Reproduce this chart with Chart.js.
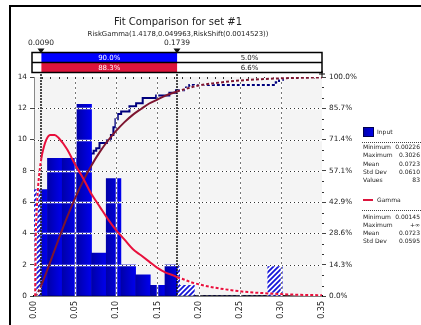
<!DOCTYPE html>
<html>
<head>
<meta charset="utf-8">
<title>Fit Comparison for set #1</title>
<script src="https://cdn.jsdelivr.net/npm/chart.js@4.4.1/dist/chart.umd.min.js"></script>
<style>
  html, body { margin: 0; padding: 0; background: #fff; }
  canvas { display: block; }
</style>
</head>
<body>
<canvas id="chart" width="421" height="325"></canvas>
<script>
// Histogram of the input data (density scale)
const binEdges = [-0.0015, 0.0164, 0.0342, 0.0521, 0.0699, 0.0878, 0.1056, 0.1235, 0.1413,
                  0.1592, 0.1770, 0.1949, 0.2127, 0.2306, 0.2484, 0.2663, 0.2841, 0.3020];
const binDensity = [6.8, 8.8, 8.8, 12.25, 2.75, 7.5, 2.0, 1.35, 0.68, 2.0, 0.68, 0, 0, 0, 0, 0, 1.95];

// Fitted gamma density
const pdfX = [0.00145, 0.002, 0.003, 0.005, 0.0075, 0.009, 0.01, 0.015, 0.02, 0.025, 0.03, 0.04, 0.05,
              0.06, 0.07, 0.08, 0.09, 0.10, 0.11, 0.12, 0.13, 0.14, 0.15, 0.16, 0.17, 0.1739, 0.18,
              0.19, 0.20, 0.22, 0.24, 0.26, 0.28, 0.30, 0.32, 0.35];
const pdfY = [0, 3.4, 5.1, 7.0, 8.3, 8.8, 9.1, 10.0, 10.3, 10.3, 10.1, 9.4, 8.4,
              7.5, 6.5, 5.7, 4.9, 4.2, 3.6, 3.0, 2.6, 2.2, 1.8, 1.5, 1.3, 1.2, 1.1,
              0.9, 0.75, 0.53, 0.37, 0.25, 0.18, 0.12, 0.08, 0.05];

// Fitted gamma cumulative probability
const cdfX = [0.00145, 0.003, 0.005, 0.009, 0.01, 0.02, 0.03, 0.04, 0.05, 0.06, 0.07, 0.08, 0.09, 0.10,
              0.11, 0.12, 0.13, 0.14, 0.15, 0.16, 0.1739, 0.18, 0.20, 0.22, 0.25, 0.28, 0.30, 0.32, 0.35];
const cdfY = [0, 0.006, 0.018, 0.050, 0.059, 0.158, 0.260, 0.358, 0.447, 0.527, 0.597, 0.658, 0.710, 0.755,
              0.794, 0.827, 0.854, 0.879, 0.897, 0.915, 0.934, 0.941, 0.961, 0.972, 0.984, 0.991, 0.994, 0.996, 0.998];

// Cumulative share of the input values
const ecdfX = [0.0023, 0.004, 0.006, 0.009, 0.012, 0.015, 0.019, 0.023, 0.027, 0.031, 0.034, 0.038, 0.042,
               0.046, 0.050, 0.054, 0.057, 0.060, 0.063, 0.066, 0.069, 0.0725, 0.0756, 0.0796, 0.0885,
               0.0935, 0.0965, 0.099, 0.1018, 0.1059, 0.116, 0.1241, 0.1321, 0.1484, 0.1645, 0.1726,
               0.1739, 0.1847, 0.1887, 0.2938, 0.2978, 0.3026];
const ecdfY = [0.012, 0.036, 0.060, 0.084, 0.096, 0.120, 0.157, 0.193, 0.217, 0.253, 0.277, 0.313, 0.349,
               0.386, 0.410, 0.446, 0.494, 0.542, 0.578, 0.614, 0.651, 0.663, 0.675, 0.699, 0.711,
               0.735, 0.771, 0.807, 0.831, 0.843, 0.867, 0.880, 0.904, 0.916, 0.928, 0.940,
               0.940, 0.952, 0.964, 0.976, 0.988, 1.0];

// Delimiters and the probabilities left of, between and right of them
const delimiters = [0.0090, 0.1739];
const inputPct = [5.0, 90.0, 5.0];
const fitPct = [5.1, 88.3, 6.6];

// Summary statistics
const inputStats = [['Minimum', '0.00226'], ['Maximum', '0.3026'], ['Mean', '0.0723'], ['Std Dev', '0.0610'], ['Values', '83']];
const fitStats = [['Minimum', '0.00145'], ['Maximum', '+\u221e'], ['Mean', '0.0723'], ['Std Dev', '0.0595']];

const titleText = 'Fit Comparison for set #1';
const subtitleText = 'RiskGamma(1.4178,0.049963,RiskShift(0.0014523))';

const FONT = '"DejaVu Sans", Verdana, sans-serif';
const TEXT = '#222';
const BLUE = '#0000ff';
const RED = '#dc143c';

const toPoints = (xs, ys) => xs.map((x, i) => ({ x, y: ys[i] }));
const bars = binDensity.map((h, i) => ({ x: (binEdges[i] + binEdges[i + 1]) / 2, y: h }));

const canvas = document.getElementById('chart');
const ctx0 = canvas.getContext('2d');

function makeHatch() {
  const c = document.createElement('canvas');
  c.width = 5; c.height = 5;
  const g = c.getContext('2d');
  g.fillStyle = '#ffffff';
  g.fillRect(0, 0, 5, 5);
  g.strokeStyle = '#1515d8';
  g.lineWidth = 1.8;
  g.beginPath();
  g.moveTo(-1, 6); g.lineTo(6, -1);
  g.moveTo(-1, 1); g.lineTo(1, -1);
  g.moveTo(4, 6); g.lineTo(6, 4);
  g.stroke();
  return ctx0.createPattern(c, 'repeat');
}
const hatch = makeHatch();

// per-bar placeholder; the shaded fill is set just before drawing
const barFill = () => '#0000e0';

function shadeBars(chart, meta) {
  const ctx = chart.ctx;
  meta.data.forEach(el => {
    const l = el.x - el.width / 2, r = el.x + el.width / 2;
    if (!isFinite(l) || !isFinite(r) || r <= l) return;
    const g = ctx.createLinearGradient(l, 0, r, 0);
    g.addColorStop(0, '#0000a8');
    g.addColorStop(1, '#0000ee');
    el.options.backgroundColor = g;
  });
}

// segments outside the delimiters are drawn dashed over a white under-stroke
const isTail = c => c.p0.parsed.x >= delimiters[1] - 1e-9 || c.p1.parsed.x <= delimiters[0] + 1e-9;
const tailDash = c => isTail(c) ? [3, 2] : undefined;
const tailUnder = c => isTail(c) ? '#ffffff' : 'rgba(0,0,0,0)';

function line(ctx, x1, y1, x2, y2) {
  ctx.beginPath(); ctx.moveTo(x1, y1); ctx.lineTo(x2, y2); ctx.stroke();
}

function drawGrid(chart) {
  const { ctx, chartArea: a, scales: { x, y } } = chart;
  ctx.save();
  y.ticks.forEach(t => {
    if (t.value <= 0 || t.value >= 14) return;
    const py = Math.round(y.getPixelForValue(t.value)) + 0.5;
    ctx.setLineDash([]); ctx.strokeStyle = '#ffffff'; ctx.lineWidth = 1.5;
    line(ctx, a.left, py, a.right, py);
    ctx.setLineDash([1, 3]); ctx.strokeStyle = '#333'; ctx.lineWidth = 1;
    line(ctx, a.left, py, a.right, py);
  });
  x.ticks.forEach(t => {
    if (t.value <= 0 || t.value >= 0.35) return;
    const px = Math.round(x.getPixelForValue(t.value)) + 0.5;
    ctx.setLineDash([]); ctx.strokeStyle = '#ffffff'; ctx.lineWidth = 1.5;
    line(ctx, px, a.top, px, a.bottom);
    ctx.setLineDash([2, 3]); ctx.strokeStyle = '#777'; ctx.lineWidth = 1;
    line(ctx, px, a.top, px, a.bottom);
  });
  // delimiter markers across the plot
  ctx.setLineDash([2, 1]); ctx.strokeStyle = '#111'; ctx.lineWidth = 1.5;
  delimiters.forEach(d => {
    const px = Math.round(x.getPixelForValue(d));
    line(ctx, px, a.top - 24, px, a.bottom);
  });
  ctx.restore();
}

function drawMinorTicks(chart) {
  const { ctx, chartArea: a, scales: { x, y2 } } = chart;
  ctx.save();
  ctx.strokeStyle = '#333';
  ctx.lineWidth = 1;
  // along the top edge, every 0.01
  for (let k = 1; k < 35; k++) {
    const px = Math.round(x.getPixelForValue(k / 100)) + 0.5;
    line(ctx, px, a.top, px, a.top + 2);
  }
  // right edge, two subdivisions between labelled ticks
  for (let k = 1; k < 21; k++) {
    if (k % 3 === 0) continue;
    const py = Math.round(y2.getPixelForValue(k / 21)) + 0.5;
    line(ctx, a.right, py, a.right + 2, py);
  }
  ctx.restore();
}

function drawDelimiterBars(chart) {
  const { ctx, chartArea: a, scales: { x } } = chart;
  const L = a.left - 2, R = a.right, T = a.top - 24.5, H = 10;
  const xs = [L, x.getPixelForValue(delimiters[0]), x.getPixelForValue(delimiters[1]), R];
  const rows = [{ pct: inputPct, fill: BLUE }, { pct: fitPct, fill: RED }];
  ctx.save();
  ctx.font = '7px ' + FONT;
  ctx.textAlign = 'center';
  ctx.textBaseline = 'middle';
  rows.forEach((row, r) => {
    const y0 = T + r * H;
    ctx.fillStyle = '#fff';
    ctx.fillRect(L, y0, R - L, H);
    ctx.fillStyle = row.fill;
    ctx.fillRect(xs[1], y0, xs[2] - xs[1], H);
    row.pct.forEach((v, k) => {
      const w = xs[k + 1] - xs[k];
      if (w < 24) return;
      ctx.fillStyle = k === 1 ? '#fff' : TEXT;
      ctx.fillText(v.toFixed(1) + '%', (xs[k] + xs[k + 1]) / 2, y0 + H / 2 + 0.5);
    });
  });
  ctx.strokeStyle = '#000';
  ctx.lineWidth = 1.5;
  ctx.strokeRect(L, T, R - L, 2 * H);
  line(ctx, L, T + H, R, T + H);
  // delimiter values and arrow heads
  ctx.font = '7.5px ' + FONT;
  delimiters.forEach(d => {
    const px = Math.round(x.getPixelForValue(d));
    ctx.fillStyle = TEXT;
    ctx.fillText(d.toFixed(4), px, T - 9);
    ctx.fillStyle = '#111';
    ctx.beginPath();
    ctx.moveTo(px - 3.5, T - 4); ctx.lineTo(px + 3.5, T - 4); ctx.lineTo(px, T + 1);
    ctx.closePath(); ctx.fill();
  });
  // small cross at the right end
  ctx.lineWidth = 1;
  line(ctx, R - 3, a.top - 3, R + 3, a.top - 3);
  line(ctx, R, a.top - 6, R, a.top);
  ctx.restore();
}

function drawLegend(chart) {
  const { ctx } = chart;
  const LX = 363, VX = 420;
  ctx.save();
  const g = ctx.createLinearGradient(LX, 0, LX + 11, 0);
  g.addColorStop(0, '#0000a8'); g.addColorStop(1, '#0000ee');
  ctx.fillStyle = g;
  ctx.fillRect(LX, 127, 11, 10);
  ctx.strokeStyle = '#000050'; ctx.lineWidth = 1;
  ctx.strokeRect(LX + 0.5, 127.5, 10, 9);
  ctx.fillStyle = TEXT;
  ctx.font = '6px ' + FONT;
  ctx.textBaseline = 'middle';
  ctx.fillText('Input', 377, 132);
  ctx.strokeStyle = '#444'; ctx.setLineDash([1, 1]);
  line(ctx, 362, 142.5, 421, 142.5);
  ctx.setLineDash([]);
  inputStats.forEach(([k, v], i) => {
    const yy = 147.5 + i * 8.3;
    ctx.textAlign = 'left'; ctx.fillText(k, LX, yy);
    ctx.textAlign = 'right'; ctx.fillText(v, VX, yy);
  });
  ctx.strokeStyle = RED; ctx.lineWidth = 2;
  line(ctx, LX, 200, LX + 10, 200);
  ctx.textAlign = 'left';
  ctx.fillText('Gamma', 377, 200.5);
  ctx.strokeStyle = '#444'; ctx.lineWidth = 1; ctx.setLineDash([1, 1]);
  line(ctx, 362, 210.5, 421, 210.5);
  ctx.setLineDash([]);
  fitStats.forEach(([k, v], i) => {
    const yy = 217 + i * 8;
    ctx.textAlign = 'left'; ctx.fillText(k, LX, yy);
    ctx.textAlign = 'right'; ctx.fillText(v, VX, yy);
  });
  ctx.restore();
}

const decor = {
  id: 'decor',
  beforeDraw(chart) {
    const { ctx, chartArea: a } = chart;
    ctx.save();
    ctx.fillStyle = '#fff';
    ctx.fillRect(0, 0, chart.width, chart.height);
    ctx.fillStyle = '#f4f4f4';
    ctx.fillRect(a.left, a.top, a.right - a.left, a.bottom - a.top);
    ctx.restore();
  },
  beforeDatasetDraw(chart, args) {
    const ds = chart.data.datasets[args.index];
    if (!ds.clipZone) return;
    const { ctx, scales: { x } } = chart;
    if (ds.clipZone === 'inside') shadeBars(chart, args.meta);
    const l = x.getPixelForValue(delimiters[0]);
    const r = x.getPixelForValue(delimiters[1]);
    ctx.save();
    ctx.beginPath();
    if (ds.clipZone === 'inside') {
      ctx.rect(l, 0, r - l, chart.height);
    } else {
      ctx.rect(0, 0, l, chart.height);
      ctx.rect(r, 0, chart.width - r, chart.height);
    }
    ctx.clip();
  },
  afterDatasetDraw(chart, args) {
    const ds = chart.data.datasets[args.index];
    if (!ds.clipZone) return;
    chart.ctx.restore();
    if (ds.clipZone === 'inside') { drawGrid(chart); drawMinorTicks(chart); }
  },
  afterDraw(chart) {
    const { ctx, chartArea: a } = chart;
    ctx.save();
    ctx.fillStyle = '#000';
    ctx.fillRect(9, 5, chart.width - 9, 2);
    ctx.fillRect(9, 5, 2, chart.height - 5);
    const cx = (a.left + a.right) / 2;
    ctx.fillStyle = TEXT;
    ctx.textAlign = 'center';
    ctx.textBaseline = 'middle';
    ctx.font = '10px ' + FONT;
    ctx.fillText(titleText, cx, 22);
    ctx.font = '6.9px ' + FONT;
    ctx.fillText(subtitleText, cx, 34.5);
    ctx.restore();
    drawDelimiterBars(chart);
    drawLegend(chart);
  }
};

const tickFont = { family: FONT, size: 7.3 };

function curve(label, xs, ys, axis, color, order, extra) {
  return [
    Object.assign({ type: 'line', label: label + ' base', data: toPoints(xs, ys), yAxisID: axis,
      borderColor: 'rgba(0,0,0,0)', borderWidth: 2, pointRadius: 0,
      segment: { borderColor: tailUnder }, order: order + 0.5 }, extra),
    Object.assign({ type: 'line', label, data: toPoints(xs, ys), yAxisID: axis,
      borderColor: color, borderWidth: 2, pointRadius: 0,
      segment: { borderDash: tailDash }, order }, extra)
  ];
}

new Chart(canvas, {
  type: 'bar',
  data: {
    datasets: [
      { type: 'bar', label: 'Input', data: bars, clipZone: 'outside', backgroundColor: hatch,
        grouped: false, barPercentage: 1, categoryPercentage: 1, borderWidth: 0, order: 11, yAxisID: 'y' },
      { type: 'bar', label: 'Input', data: bars, clipZone: 'inside', backgroundColor: barFill,
        grouped: false, barPercentage: 1, categoryPercentage: 1, borderWidth: 0, order: 10, yAxisID: 'y' },
      ...curve('Input CDF', ecdfX, ecdfY, 'y2', '#00007d', 12, { stepped: true }),
      ...curve('Gamma CDF', cdfX, cdfY, 'y2', '#7d1530', 3, { cubicInterpolationMode: 'monotone' }),
      ...curve('Gamma', pdfX, pdfY, 'y', '#e8103c', 1, { cubicInterpolationMode: 'monotone' })
    ]
  },
  options: {
    responsive: false,
    animation: false,
    devicePixelRatio: 1,
    layout: { padding: { left: 0, top: 77, right: 54, bottom: 0 } },
    plugins: { legend: { display: false }, tooltip: { enabled: false }, title: { display: false } },
    scales: {
      x: {
        type: 'linear', min: 0, max: 0.35, offset: false,
        ticks: { stepSize: 0.05, minRotation: 90, maxRotation: 90, autoSkip: false,
                 callback: v => Number(v).toFixed(2), font: { family: FONT, size: 8 }, color: TEXT, padding: 5 },
        grid: { display: false, drawTicks: false, offset: false },
        border: { display: true, color: '#000', width: 1.5 },
        afterFit: s => { s.height = 29; }
      },
      y: {
        min: 0, max: 14,
        ticks: { stepSize: 2, font: tickFont, color: TEXT, padding: 3 },
        grid: { drawOnChartArea: false, tickLength: 4, color: '#444' },
        border: { display: true, color: '#888', width: 1 },
        afterFit: s => { s.width = 34; }
      },
      y2: {
        position: 'right', min: 0, max: 1,
        ticks: { count: 8, callback: v => (v * 100).toFixed(1) + '%', font: tickFont, color: TEXT, padding: 3 },
        grid: { drawOnChartArea: false, tickLength: 4, color: '#444' },
        border: { display: false },
        afterFit: s => { s.width = 45; }
      }
    }
  },
  plugins: [decor]
});
</script>
</body>
</html>
